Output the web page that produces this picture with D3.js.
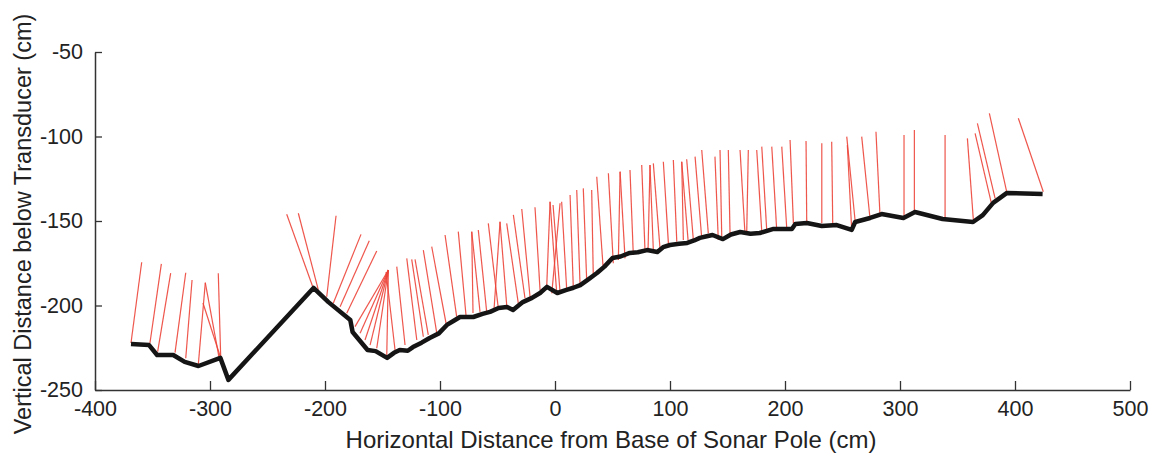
<!DOCTYPE html>
<html><head><meta charset="utf-8">
<script src="https://cdn.jsdelivr.net/npm/d3@7"></script>
<style>
html,body{margin:0;padding:0;background:#fff;}
svg{display:block;}
text{font-family:"Liberation Sans",Arial,sans-serif;fill:#222;}
</style></head>
<body><svg id="c" width="1157" height="453"></svg>
<script>
// ---- data (cm) ----
const xTicks = [-400,-300,-200,-100,0,100,200,300,400,500];
const yTicks = [-50,-100,-150,-200,-250];
const xTitle = "Horizontal Distance from Base of Sonar Pole (cm)";
const yTitle = "Vertical Distance below Transducer (cm)";

// seabed profile: [x, y]
const seabed = [
[-368.7,-222.8],[-353,-223.4],[-346,-229.3],[-332,-229.3],[-322,-233.4],[-310,-235.8],[-291,-231],[-284,-244],
[-210,-189.6],[-197,-198],[-178,-208.6],[-176,-215.7],[-163,-226.3],[-156,-227],[-146,-231],[-140,-228],
[-135,-226.3],[-128,-226.8],[-123.5,-224.6],[-116,-222],[-109,-219.2],[-101,-216.5],[-94,-211.5],[-88,-209],
[-82.6,-206.8],[-71,-206.8],[-63,-205],[-56.5,-203.8],[-49,-201.5],[-41.7,-200.9],[-36.5,-202.7],[-28,-198],
[-20,-195.5],[-13,-192.6],[-7,-189],[2,-192.6],[10,-190.8],[16,-189.5],[22,-187.9],[29,-184.5],[36.5,-180.8],
[43,-177],[50,-171.9],[57,-171],[65,-168.9],[72,-168.5],[80,-167.2],[89,-168.3],[94,-165.5],[100,-164.2],
[108,-163.5],[115,-163],[121,-161.5],[126,-160],[132,-159],[137,-158.3],[146,-160.7],[153,-158],[161,-156.5],
[170,-157.5],[178,-157.1],[190,-154.7],[206,-154.7],[209,-151.8],[219,-151.2],[232,-153],[245,-152.4],
[258,-155.3],[261,-150.6],[274,-148.2],[284,-145.9],[303,-148.2],[313,-144.7],[337,-148.8],[363.5,-150.6],
[372,-146.5],[381,-139.3],[393,-133.4],[424,-134]
];

// beams: [bottomX, bottomY, topX, topY]
const beams = [
[-368.7,-222.2,-359.4,-174.4],[-352.2,-222.2,-342.3,-175.4],[-345.5,-227.3,-334.2,-180.9],[-330.4,-227.9,-321.1,-180.6],
[-321.1,-231.2,-315.6,-184.9],[-310.2,-235.2,-304.1,-186.5],[-292.2,-230.5,-304.1,-186.5],[-288.7,-235.2,-306.1,-198.5],
[-290.7,-230.3,-292.8,-180.9],
[-210.2,-189.8,-233.3,-146.0],[-205.8,-190.8,-223.2,-145.4],[-198.5,-194.8,-190.4,-146.9],[-192.8,-198.7,-168.7,-157.9],
[-186.9,-200.7,-161.5,-161.7],[-181.1,-204.6,-155.0,-167.7],[-173.9,-212.5,-144.9,-179.0],[-169.5,-216.4,-144.9,-179.0],
[-165.2,-220.4,-144.9,-179.0],[-160.8,-223.4,-144.9,-179.0],[-155.0,-225.3,-144.9,-179.0],[-146.3,-229.9,-144.9,-179.0],
[-139.1,-226.3,-146.9,-180.2],[-130.4,-223.4,-137.6,-177.0],[-120.2,-220.4,-128.9,-172.1],[-114.5,-218.5,-124.6,-172.7],
[-110.2,-217.4,-121.7,-172.7],[-102.8,-216.4,-114.5,-167.2],[-94.2,-212.5,-107.2,-165.2],[-85.5,-206.6,-95.6,-158.3],
[-77.4,-205.6,-84.1,-156.3],[-71.3,-204.4,-72.4,-156.3],[-65.2,-203.8,-72.4,-156.3],[-59.4,-203.7,-66.7,-155.3],
[-49.3,-201.7,-58.0,-151.4],[-53.0,-202.1,-47.8,-150.4],[-42.0,-199.7,-47.8,-150.4],[-31.9,-198.7,-42.0,-151.4],
[-26.1,-195.7,-36.2,-146.4],[-21.7,-194.8,-28.9,-142.9],[-13.0,-190.8,-17.4,-141.9],[-7.2,-188.9,-4.3,-138.6],
[1.5,-192.8,-4.3,-138.6],[-2.8,-192.8,4.4,-139.5],[4.4,-192.0,-1.7,-140.5],[10.2,-190.8,5.8,-138.6],
[15.9,-188.9,13.1,-134.6],[21.8,-187.9,18.9,-131.7],[27.6,-185.9,24.6,-130.7],[33.3,-183.0,31.9,-131.7],
[42.0,-179.0,36.3,-123.8],[50.7,-175.0,46.4,-121.8],[55.1,-173.1,56.6,-120.8],[60.9,-172.1,56.6,-120.8],
[68.1,-170.1,65.2,-119.8],[78.3,-168.2,75.4,-116.9],[85.5,-167.2,82.6,-116.9],[80.9,-167.8,82.6,-116.9],
[91.3,-166.1,85.5,-115.9],[98.6,-163.2,94.2,-114.9],[105.9,-162.2,102.9,-113.9],[111.6,-161.2,110.2,-114.9],
[115.7,-161.2,110.2,-114.9],[120.3,-161.2,114.5,-113.5],[127.6,-160.2,121.8,-111.9],[133.3,-157.3,127.6,-108.0],
[142.0,-161.2,139.1,-111.9],[145.0,-159.3,143.5,-108.0],[152.2,-157.3,150.7,-108.0],[165.2,-157.3,160.9,-108.0],
[166.7,-157.3,168.1,-108.0],[179.8,-156.3,175.4,-108.0],[184.1,-155.3,179.8,-106.0],[192.8,-155.3,188.5,-106.0],
[201.5,-154.3,197.2,-106.0],[207.3,-151.4,204.4,-102.1],[218.9,-151.4,218.3,-102.7],[232.0,-151.4,232.0,-104.0],
[241.5,-151.4,240.6,-103.1],[260.9,-149.4,253.7,-100.1],[258.0,-155.3,254.2,-105.0],[273.9,-148.4,266.7,-100.1],
[282.6,-146.4,279.1,-97.2],[303.5,-148.4,303.5,-99.1],[312.5,-144.5,312.5,-96.2],[339.2,-149.4,339.2,-99.1],
[363.8,-149.4,358.6,-101.1],[379.8,-140.5,365.3,-98.1],[382.7,-136.6,367.3,-92.2],[392.8,-132.7,377.7,-86.3],
[424.6,-132.7,402.9,-89.2]
];

// ---- drawing ----
const svg = d3.select("#c");
const x = d3.scaleLinear().domain([-400,500]).range([95,1130]);
const y = d3.scaleLinear().domain([-250,-50]).range([390,52]);
const axisColor = "#333";
const fmt = d => String(d); // plain hyphen-minus like the original

// beams
svg.append("g").selectAll("line").data(beams).join("line")
  .attr("x1", d => x(d[0])).attr("y1", d => y(d[1]))
  .attr("x2", d => x(d[2])).attr("y2", d => y(d[3]))
  .attr("stroke", "#ec4438").attr("stroke-width", 1.2).attr("stroke-opacity", 0.9);

// seabed
svg.append("path").datum(seabed)
  .attr("d", d3.line().x(d => x(d[0])).y(d => y(d[1])))
  .attr("fill", "none").attr("stroke", "#151515").attr("stroke-width", 4.5)
  .attr("stroke-linejoin", "round").attr("stroke-linecap", "butt");

// x axis
const gx = svg.append("g").attr("transform", `translate(0,${y(-250)})`)
  .call(d3.axisBottom(x).tickValues(xTicks).tickFormat(fmt).tickSize(-9).tickSizeOuter(0).tickPadding(11));
// y axis
const gy = svg.append("g").attr("transform", `translate(${x(-400)},0)`)
  .call(d3.axisLeft(y).tickValues(yTicks).tickFormat(fmt).tickSize(-7).tickSizeOuter(0).tickPadding(12));
[gx, gy].forEach(g => {
  g.select(".domain").attr("stroke", axisColor).attr("stroke-width", 1.5);
  g.selectAll(".tick line").attr("stroke", axisColor).attr("stroke-width", 1.3);
  g.selectAll(".tick text").attr("font-size", 21.5).attr("font-family", '"Liberation Sans", Arial, sans-serif').attr("fill", "#222");
});

// titles
svg.append("text").attr("x", 611).attr("y", 448).attr("text-anchor", "middle")
  .attr("font-size", 24).text(xTitle);
svg.append("text").attr("transform", "translate(31,224) rotate(-90)").attr("text-anchor", "middle")
  .attr("font-size", 23.5).text(yTitle);
</script></body></html>
